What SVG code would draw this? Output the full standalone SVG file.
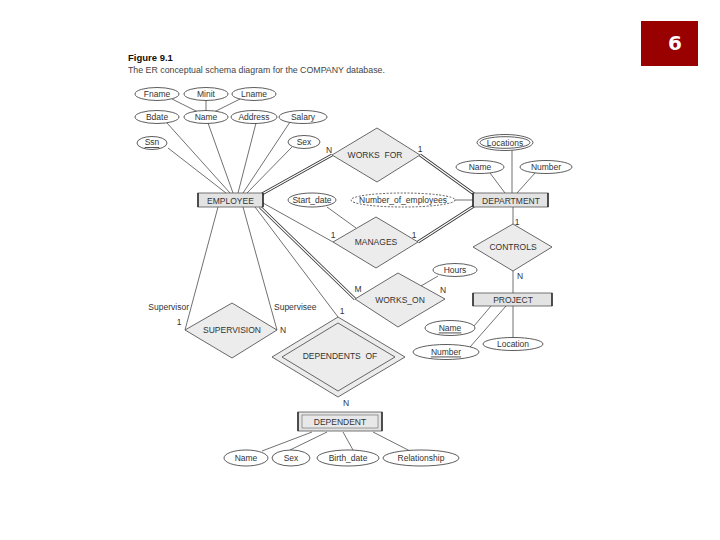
<svg xmlns="http://www.w3.org/2000/svg" width="720" height="540" viewBox="0 0 720 540">
<style>
text{font-family:"Liberation Sans",Arial,sans-serif;fill:#333;font-size:8.5px}
.c{text-anchor:middle;dominant-baseline:central}
.ell{fill:#fff;stroke:#333;stroke-width:0.8}
.dia{fill:#ececec;stroke:#444;stroke-width:0.8}
.ent{fill:#e3e3e3;stroke:#555;stroke-width:0.8}
.side{stroke:#222;stroke-width:1.4}
.ln{stroke:#333;stroke-width:0.7;fill:none}
.dbo{stroke:#333;stroke-width:3;fill:none}
.dbi{stroke:#fff;stroke-width:1.4;fill:none}
.lab{font-size:8.5px}
</style>
<rect width="720" height="540" fill="#fff"/>
<g id="pagenum"><rect x="641" y="21" width="57" height="45" fill="#990000"/><text x="675" y="43" class="c" style="font-family:'DejaVu Sans',sans-serif;font-weight:bold;font-size:20px;fill:#fff">6</text></g>
<g id="caption"><text x="128" y="61" style="font-weight:bold;font-size:9.5px;fill:#111">Figure 9.1</text><text x="128" y="73" style="font-size:8.8px;fill:#444">The ER conceptual schema diagram for the COMPANY database.</text></g>
<g id="connectors">
<line class="ln" x1="172" y1="99" x2="198" y2="112"/>
<line class="ln" x1="206" y1="100" x2="206" y2="111"/>
<line class="ln" x1="240" y1="99" x2="214" y2="112"/>
<line class="ln" x1="168" y1="148" x2="226" y2="193"/>
<line class="ln" x1="167" y1="123" x2="230" y2="193"/>
<line class="ln" x1="208" y1="123" x2="233" y2="193"/>
<line class="ln" x1="256" y1="123" x2="238" y2="193"/>
<line class="ln" x1="290" y1="122" x2="243" y2="193"/>
<line class="ln" x1="292" y1="147" x2="247" y2="193"/>
<line class="dbo" x1="262" y1="194" x2="332" y2="155"/><line class="dbi" x1="262" y1="194" x2="332" y2="155"/>
<line class="dbo" x1="420" y1="155" x2="474" y2="194"/><line class="dbi" x1="420" y1="155" x2="474" y2="194"/>
<line class="ln" x1="263" y1="203" x2="333" y2="242"/>
<line class="dbo" x1="418" y1="242" x2="474" y2="206"/><line class="dbi" x1="418" y1="242" x2="474" y2="206"/>
<line class="ln" x1="327" y1="207" x2="356" y2="228"/>
<line class="ln" x1="455" y1="200" x2="473" y2="200"/>
<line class="dbo" x1="260" y1="207" x2="355" y2="299"/><line class="dbi" x1="260" y1="207" x2="355" y2="299"/>
<line class="ln" x1="255" y1="207" x2="338" y2="317"/>
<line class="ln" x1="218" y1="207" x2="185" y2="330"/>
<line class="ln" x1="243" y1="207" x2="277" y2="330"/>
<line class="ln" x1="438" y1="276" x2="421" y2="286"/>
<line class="ln" x1="512" y1="150" x2="512" y2="193"/>
<line class="ln" x1="490" y1="173" x2="505" y2="193"/>
<line class="ln" x1="535" y1="173" x2="517" y2="193"/>
<line class="ln" x1="513" y1="207" x2="513" y2="224"/>
<line class="ln" x1="513" y1="271" x2="513" y2="293"/>
<line class="ln" x1="513" y1="306" x2="513" y2="338"/>
<line class="ln" x1="474" y1="326" x2="491" y2="306"/>
<line class="ln" x1="470" y1="347" x2="506" y2="306"/>
<line class="ln" x1="312" y1="432" x2="262" y2="451"/>
<line class="ln" x1="327" y1="432" x2="290" y2="450"/>
<line class="ln" x1="343" y1="432" x2="353" y2="450"/>
<line class="ln" x1="373" y1="432" x2="410" y2="451"/>
</g>
<g id="emp-attrs">
<g id="fname"><ellipse class="ell" cx="157" cy="94" rx="22" ry="6.5"/><text class="c" x="157" y="94">Fname</text></g>
<g id="minit"><ellipse class="ell" cx="206" cy="94" rx="22" ry="6.5"/><text class="c" x="206" y="94">Minit</text></g>
<g id="lname"><ellipse class="ell" cx="254" cy="94" rx="22" ry="6.5"/><text class="c" x="254" y="94">Lname</text></g>
<g id="bdate"><ellipse class="ell" cx="157" cy="117" rx="22" ry="6.5"/><text class="c" x="157" y="117">Bdate</text></g>
<g id="ename"><ellipse class="ell" cx="206" cy="117" rx="22" ry="6.5"/><text class="c" x="206" y="117">Name</text></g>
<g id="address"><ellipse class="ell" cx="254" cy="117" rx="23" ry="6.5"/><text class="c" x="254" y="117">Address</text></g>
<g id="salary"><ellipse class="ell" cx="303" cy="117" rx="24" ry="6.5"/><text class="c" x="303" y="117">Salary</text></g>
<g id="ssn"><ellipse class="ell" cx="152" cy="143" rx="15" ry="6.5"/><text class="c" x="152" y="142" text-decoration="underline">Ssn</text></g>
<g id="sex"><ellipse class="ell" cx="304" cy="142" rx="16" ry="6.5"/><text class="c" x="304" y="142">Sex</text></g>
</g>
<g id="employee"><rect class="ent" x="198" y="193" width="65" height="14"/><line class="side" x1="198" y1="193" x2="198" y2="207"/><line class="side" x1="263" y1="193" x2="263" y2="207"/><text class="c" x="230.5" y="200.5">EMPLOYEE</text></g>
<g id="works_for"><polygon class="dia" points="377,128 420,155 377,182 332,155"/><text class="c" x="375" y="155" xml:space="preserve">WORKS  FOR</text><text class="c lab" x="329" y="150">N</text><text class="c lab" x="420" y="149">1</text></g>
<g id="dept-attrs">
<g id="locations"><ellipse class="ell" cx="505" cy="142.5" rx="28" ry="8"/><ellipse class="ell" cx="505" cy="142.5" rx="25" ry="5.8"/><text class="c" x="505" y="142.5">Locations</text></g>
<g id="dname"><ellipse class="ell" cx="480" cy="167" rx="24" ry="6.5"/><text class="c" x="480" y="167">Name</text></g>
<g id="dnumber"><ellipse class="ell" cx="546" cy="167" rx="26" ry="6.5"/><text class="c" x="546" y="167">Number</text></g>
<g id="start_date"><ellipse class="ell" cx="312" cy="200" rx="24" ry="7"/><text class="c" x="312" y="200">Start_date</text></g>
<g id="num_emp"><ellipse class="ell" cx="403" cy="200" rx="52" ry="7" stroke-dasharray="2,1.5"/><text class="c" x="403" y="200">Number_of_employees</text></g>
</g>
<g id="department"><rect class="ent" x="473" y="193" width="75" height="14"/><line class="side" x1="473" y1="193" x2="473" y2="207"/><line class="side" x1="548" y1="193" x2="548" y2="207"/><text class="c" x="511" y="200.5">DEPARTMENT</text><text class="c lab" x="517" y="222">1</text></g>
<g id="manages"><polygon class="dia" points="376,217 418,242 376,268 333,242"/><text class="c" x="376" y="242">MANAGES</text><text class="c lab" x="333" y="235">1</text><text class="c lab" x="414" y="235">1</text></g>
<g id="controls"><polygon class="dia" points="513,224 552,247 513,271 473,247"/><text class="c" x="513" y="247">CONTROLS</text><text class="c lab" x="520" y="276">N</text></g>
<g id="hours"><ellipse class="ell" cx="455" cy="270" rx="22" ry="6.5"/><text class="c" x="455" y="270">Hours</text></g>
<g id="works_on"><polygon class="dia" points="398,273 445,299 398,327 355,299"/><text class="c" x="400" y="300">WORKS_ON</text><text class="c lab" x="358" y="289">M</text><text class="c lab" x="443" y="290">N</text></g>
<g id="project"><rect class="ent" x="473" y="293" width="79" height="13"/><line class="side" x1="473" y1="293" x2="473" y2="306"/><line class="side" x1="552" y1="293" x2="552" y2="306"/><text class="c" x="513" y="299.5">PROJECT</text></g>
<g id="proj-attrs">
<g id="pname"><ellipse class="ell" cx="450" cy="328" rx="25" ry="7.5"/><text class="c" x="450" y="327.5" text-decoration="underline">Name</text></g>
<g id="pnumber"><ellipse class="ell" cx="446" cy="352" rx="33" ry="7.5"/><text class="c" x="446" y="351.5" text-decoration="underline">Number</text></g>
<g id="plocation"><ellipse class="ell" cx="513" cy="344" rx="30" ry="6.5"/><text class="c" x="513" y="344">Location</text></g>
</g>
<g id="supervision"><polygon class="dia" points="232,303 277,330 232,358 185,330"/><text class="c" x="232" y="330">SUPERVISION</text><text x="189" y="309.5" class="lab" text-anchor="end">Supervisor</text><text x="274" y="309.5" class="lab">Supervisee</text><text class="c lab" x="179" y="322">1</text><text class="c lab" x="283" y="330">N</text></g>
<g id="dependents_of"><polygon class="dia" points="338,317 405,357 338,397 272,357"/><polygon class="dia" points="338,323 395,357 338,391 282,357"/><text class="c" x="340" y="356" xml:space="preserve">DEPENDENTS  OF</text><text class="c lab" x="342" y="311">1</text><text class="c lab" x="346" y="403">N</text></g>
<g id="dependent"><rect class="ent" x="298" y="412" width="84" height="19"/><rect x="302" y="415" width="76" height="13" fill="#e8e8e8" stroke="#666" stroke-width="0.6"/><line class="side" x1="298" y1="412" x2="298" y2="431"/><line class="side" x1="382" y1="412" x2="382" y2="431"/><text class="c" x="340" y="421.5">DEPENDENT</text></g>
<g id="dep-attrs">
<g id="depname"><ellipse class="ell" cx="246" cy="458" rx="22" ry="8"/><text class="c" x="246" y="458">Name</text></g>
<g id="depsex"><ellipse class="ell" cx="291" cy="458" rx="19" ry="8"/><text class="c" x="291" y="458">Sex</text></g>
<g id="birth"><ellipse class="ell" cx="348" cy="458" rx="31" ry="8"/><text class="c" x="348" y="458">Birth_date</text></g>
<g id="relationship"><ellipse class="ell" cx="421" cy="458" rx="38" ry="8"/><text class="c" x="421" y="458">Relationship</text></g>
</g>
</svg>
